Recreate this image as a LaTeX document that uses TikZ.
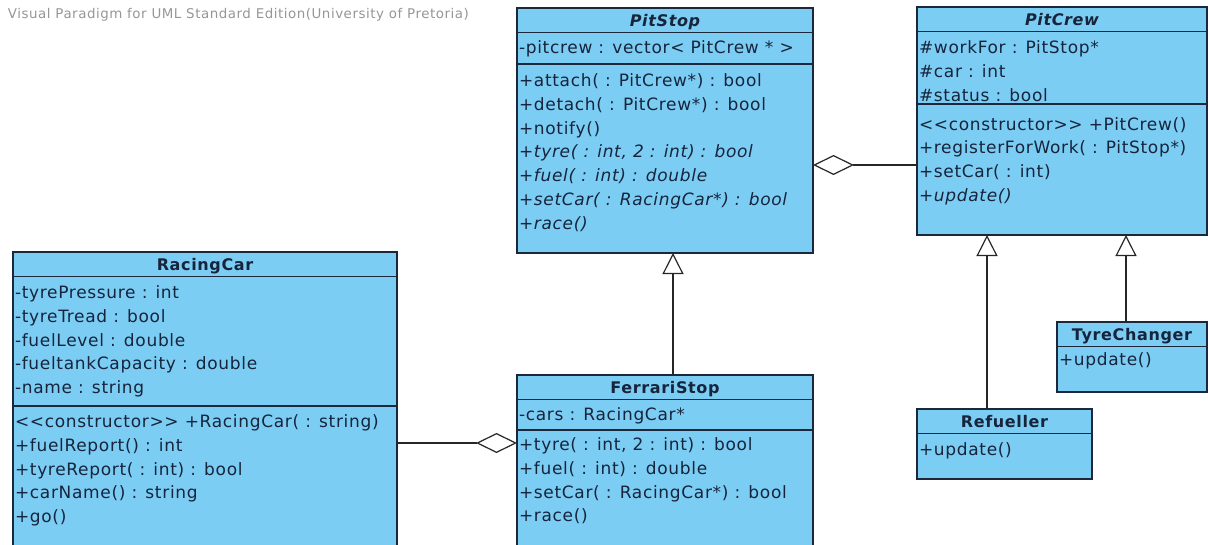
\documentclass[tikz,border=0pt]{standalone}
\usepackage{fontspec}
\setmainfont{DejaVu Sans}[LetterSpace=4,ItalicFont={DejaVu Sans Oblique},BoldFont={DejaVu Sans Bold},BoldItalicFont={DejaVu Sans Bold Oblique}]
\usepackage{xcolor}
\usepackage{tikz}
\usetikzlibrary{calc}
\usetikzlibrary{arrows.meta}
\usetikzlibrary{positioning}

\definecolor{classblue}{RGB}{124,205,243}
\definecolor{classline}{RGB}{28,40,58}
\definecolor{classtext}{RGB}{22,36,60}
\definecolor{vpgrey}{RGB}{150,150,150}

\begin{document}
\begin{tikzpicture}[x=1pt,y=-1pt]
    \tikzstyle{every node}=[inner sep=0pt,outer sep=0pt,text=classtext,font=\fontsize{17}{23.8}\selectfont]
    \tikzstyle{classbox}=[draw=classline,fill=classblue,line width=1.3pt,anchor=north west]
    \tikzstyle{title}=[anchor=base,font=\fontsize{16}{23.8}\selectfont\bfseries]
    \tikzstyle{members}=[anchor=north west,align=left]
    \tikzstyle{divider}=[draw=classline,line width=1.3pt]
    \tikzstyle{aggregate}=[draw=black!85,line width=1.2pt,{Diamond[open,length=41pt,width=20pt]}-]
    \tikzstyle{generalize}=[draw=black!85,line width=1.2pt,{Triangle[open,length=21pt,width=21pt]}-]

    \useasboundingbox (0,0) rectangle (1208,544);

    \def\titleh{24.5}
    \def\titleb{18.5}

    \node[anchor=west,text=vpgrey,font=\fontsize{13.4}{15}\selectfont] (vp-banner) at (8,15)
      {Visual Paradigm for UML Standard Edition(University of Pretoria)};

    \node[classbox,minimum width=296pt,minimum height=245pt] (pitstop) at (517,8) {};
    \draw[divider] ($(pitstop.north west)+(0,\titleh)$) -- ($(pitstop.north east)+(0,\titleh)$);
    \draw[divider] ($(pitstop.north west)+(0,56)$) -- ($(pitstop.north east)+(0,56)$);
    \node[title,font=\fontsize{16}{23.8}\selectfont\bfseries\itshape] (pitstop-name) at ($(pitstop.north)+(0,\titleb)$) {PitStop};
    \node[members] (pitstop-attr) at ($(pitstop.north west)+(2,32.6)$) {-pitcrew : vector< PitCrew * >};
    \node[members] (pitstop-ops) at ($(pitstop.north west)+(2,65.6)$)
      {+attach( : PitCrew*) : bool\\
       +detach( : PitCrew*) : bool\\
       +notify()\\
       \itshape +tyre( : int, 2 : int) : bool\\
       \itshape +fuel( : int) : double\\
       \itshape +setCar( : RacingCar*) : bool\\
       \itshape +race()};

    \node[classbox,minimum width=290pt,minimum height=228pt] (pitcrew) at (917,7) {};
    \draw[divider] ($(pitcrew.north west)+(0,\titleh)$) -- ($(pitcrew.north east)+(0,\titleh)$);
    \draw[divider] ($(pitcrew.north west)+(0,97)$) -- ($(pitcrew.north east)+(0,97)$);
    \node[title,font=\fontsize{16}{23.8}\selectfont\bfseries\itshape] (pitcrew-name) at ($(pitcrew.north)+(0,\titleb)$) {PitCrew};
    \node[members] (pitcrew-attr) at ($(pitcrew.north west)+(2,33.8)$)
      {\#workFor : PitStop*\\
       \#car : int\\
       \#status : bool};
    \node[members] (pitcrew-ops) at ($(pitcrew.north west)+(2,110.1)$)
      {<{}<constructor>{}> +PitCrew()\\
       +registerForWork( : PitStop*)\\
       +setCar( : int)\\
       \itshape +update()};

    \node[classbox,minimum width=384pt,minimum height=300pt] (racingcar) at (13,252) {};
    \draw[divider] ($(racingcar.north west)+(0,\titleh)$) -- ($(racingcar.north east)+(0,\titleh)$);
    \draw[divider] ($(racingcar.north west)+(0,154)$) -- ($(racingcar.north east)+(0,154)$);
    \node[title] (racingcar-name) at ($(racingcar.north)+(0,\titleb)$) {RacingCar};
    \node[members] (racingcar-attr) at ($(racingcar.north west)+(2,33.6)$)
      {-tyrePressure : int\\
       -tyreTread : bool\\
       -fuelLevel : double\\
       -fueltankCapacity : double\\
       -name : string};
    \node[members] (racingcar-ops) at ($(racingcar.north west)+(2,162.6)$)
      {<{}<constructor>{}> +RacingCar( : string)\\
       +fuelReport() : int\\
       +tyreReport( : int) : bool\\
       +carName() : string\\
       +go()};

    \node[classbox,minimum width=296pt,minimum height=180pt] (ferraristop) at (517,375) {};
    \draw[divider] ($(ferraristop.north west)+(0,\titleh)$) -- ($(ferraristop.north east)+(0,\titleh)$);
    \draw[divider] ($(ferraristop.north west)+(0,55)$) -- ($(ferraristop.north east)+(0,55)$);
    \node[title] (ferraristop-name) at ($(ferraristop.north)+(0,\titleb)$) {FerrariStop};
    \node[members] (ferraristop-attr) at ($(ferraristop.north west)+(2,32.6)$) {-cars : RacingCar*};
    \node[members] (ferraristop-ops) at ($(ferraristop.north west)+(2,62.6)$)
      {+tyre( : int, 2 : int) : bool\\
       +fuel( : int) : double\\
       +setCar( : RacingCar*) : bool\\
       +race()};

    \node[classbox,minimum width=150pt,minimum height=70pt] (tyrechanger) at (1057,322) {};
    \draw[divider] ($(tyrechanger.north west)+(0,\titleh)$) -- ($(tyrechanger.north east)+(0,\titleh)$);
    \node[title] (tyrechanger-name) at ($(tyrechanger.north)+(0,\titleb)$) {TyreChanger};
    \node[members] (tyrechanger-ops) at ($(tyrechanger.north west)+(2,30.1)$) {+update()};

    \node[classbox,minimum width=175pt,minimum height=70pt] (refueller) at (917,409) {};
    \draw[divider] ($(refueller.north west)+(0,\titleh)$) -- ($(refueller.north east)+(0,\titleh)$);
    \node[title] (refueller-name) at ($(refueller.north)+(0,\titleb)$) {Refueller};
    \node[members] (refueller-ops) at ($(refueller.north west)+(2,33.6)$) {+update()};

    \coordinate (crew-agg) at ($(pitcrew.north west)+(0,158)$);
    \draw[aggregate] (crew-agg -| pitstop.east) -- (crew-agg);

    \coordinate (car-agg) at ($(racingcar.north east)+(0,191)$);
    \draw[aggregate] (car-agg -| ferraristop.west) -- (car-agg);

    \coordinate (ferrari-up) at ($(ferraristop.north west)+(156,0)$);
    \draw[generalize] (ferrari-up |- pitstop.south) -- (ferrari-up);

    \coordinate (refueller-up) at ($(refueller.north west)+(70,0)$);
    \draw[generalize] (refueller-up |- pitcrew.south) -- (refueller-up);

    \coordinate (tyre-up) at ($(tyrechanger.north west)+(69,0)$);
    \draw[generalize] (tyre-up |- pitcrew.south) -- (tyre-up);

  \end{tikzpicture}
\end{document}
